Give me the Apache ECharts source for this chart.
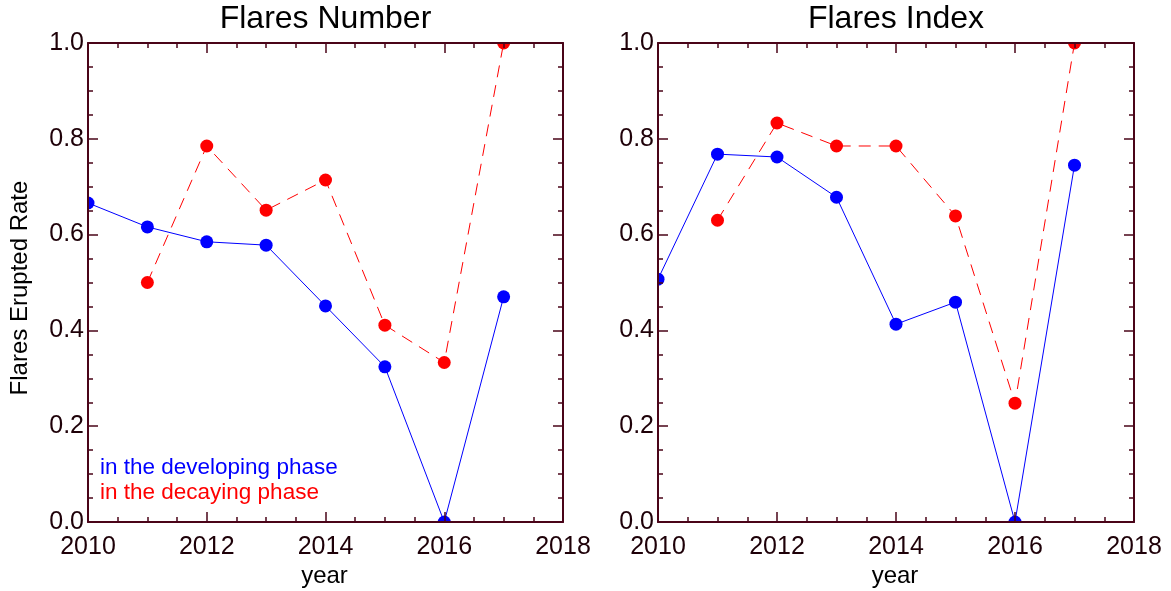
<!DOCTYPE html>
<html>
<head>
<meta charset="utf-8">
<script src="https://cdn.jsdelivr.net/npm/echarts@6/dist/echarts.min.js"></script>
<style>html,body{margin:0;padding:0;background:#fff}#c{width:1171px;height:591px}</style>
</head>
<body>
<div id="c"></div>
<script>
const years = [2010, 2011, 2012, 2013, 2014, 2015, 2016, 2017];
const numberDeveloping = [0.666, 0.616, 0.585, 0.578, 0.451, 0.324, 0.0, 0.470];
const numberDecaying   = [null, 0.500, 0.785, 0.651, 0.714, 0.411, 0.333, 1.0];
const indexDeveloping  = [0.507, 0.768, 0.762, 0.678, 0.413, 0.459, 0.0, 0.745];
const indexDecaying    = [null, 0.630, 0.833, 0.785, 0.785, 0.639, 0.248, 1.0];
const xTicks = [2010, 2012, 2014, 2016, 2018];
const yTicks = [0.0, 0.2, 0.4, 0.6, 0.8, 1.0];
const panelTitles = ['Flares Number', 'Flares Index'];
const legendTexts = ['in the developing phase', 'in the decaying phase'];

const FONT = '"Liberation Sans", Arial, Helvetica, sans-serif';
const AXIS_COLOR = '#4a0418';
const LABEL_COLOR = '#1e0008';
const grids = [
  {left: 88, top: 43, width: 475, height: 479},
  {left: 658, top: 43, width: 476, height: 479}
];

function pairs(vals) { return years.map((y, i) => [y, vals[i]]); }

const xAxes = [], yAxes = [];
grids.forEach((g, gi) => {
  const common = {
    gridIndex: gi, type: 'value', z: 4,
    axisLine: {show: true, onZero: false, lineStyle: {color: AXIS_COLOR, width: 2}},
    axisTick: {show: true, inside: true, length: 10, lineStyle: {color: AXIS_COLOR, width: 1.5}},
    minorTick: {show: true, splitNumber: 4, length: 5, lineStyle: {color: AXIS_COLOR, width: 1.5}},
    splitLine: {show: false}
  };
  ['bottom', 'top'].forEach((pos, k) => {
    xAxes.push(Object.assign({}, common, {
      position: pos, min: xTicks[0], max: xTicks[xTicks.length - 1], interval: 2,
      axisLabel: {show: k === 0, color: LABEL_COLOR, fontSize: 25, fontFamily: FONT, margin: 13,
        formatter: v => String(v)}
    }));
  });
  ['left', 'right'].forEach((pos, k) => {
    yAxes.push(Object.assign({}, common, {
      position: pos, min: yTicks[0], max: yTicks[yTicks.length - 1], interval: 0.2,
      axisLabel: {show: k === 0, color: LABEL_COLOR, fontSize: 25, fontFamily: FONT, margin: 4,
        formatter: v => v.toFixed(1)}
    }));
  });
});

function lineSeries(gi, vals, color, dashed) {
  return {
    type: 'line', xAxisIndex: gi * 2, yAxisIndex: gi * 2, data: pairs(vals),
    symbol: 'circle', symbolSize: 13, clip: false, z: 2, connectNulls: false,
    itemStyle: {color: color},
    lineStyle: {color: color, width: 1, type: dashed ? [12, 8] : 'solid'},
    emphasis: {disabled: true}, animation: false
  };
}

const graphics = [];
grids.forEach((g, gi) => {
  // white masks just outside plot edges so edge markers appear clipped
  const m = 9;
  graphics.push({type: 'rect', z: 3, shape: {x: g.left - m - 1, y: g.top - m, width: m, height: g.height + 2 * m}, style: {fill: '#fff'}});
  graphics.push({type: 'rect', z: 3, shape: {x: g.left + g.width + 1, y: g.top - m, width: m, height: g.height + 2 * m}, style: {fill: '#fff'}});
  graphics.push({type: 'rect', z: 3, shape: {x: g.left - m, y: g.top - m - 1, width: g.width + 2 * m, height: m}, style: {fill: '#fff'}});
  graphics.push({type: 'rect', z: 3, shape: {x: g.left - m, y: g.top + g.height + 1, width: g.width + 2 * m, height: m}, style: {fill: '#fff'}});
  graphics.push({type: 'text', z: 5, x: g.left + g.width / 2, y: 19,
    style: {text: panelTitles[gi], fill: '#000', font: '32px ' + FONT, textAlign: 'center', textVerticalAlign: 'middle'}});
  graphics.push({type: 'text', z: 5, x: g.left + g.width / 2 - 1, y: 576,
    style: {text: 'year', fill: '#000', font: '24px ' + FONT, textAlign: 'center', textVerticalAlign: 'middle'}});
});
graphics.push({type: 'text', z: 5, x: 20, y: 288, rotation: Math.PI / 2,
  style: {text: 'Flares Erupted Rate', fill: '#000', font: '24px ' + FONT, textAlign: 'center', textVerticalAlign: 'middle'}});
graphics.push({type: 'text', z: 5, x: 100, y: 468,
  style: {text: legendTexts[0], fill: '#0000ff', font: '22.5px ' + FONT, textAlign: 'left', textVerticalAlign: 'middle'}});
graphics.push({type: 'text', z: 5, x: 100, y: 493,
  style: {text: legendTexts[1], fill: '#ff0000', font: '22.5px ' + FONT, textAlign: 'left', textVerticalAlign: 'middle'}});

const chart = echarts.init(document.getElementById('c'), null, {renderer: 'canvas'});
chart.setOption({
  backgroundColor: '#fff',
  animation: false,
  grid: grids.map(g => Object.assign({show: false}, g)),
  xAxis: xAxes,
  yAxis: yAxes,
  series: [
    lineSeries(0, numberDeveloping, '#0000ff', false),
    lineSeries(0, numberDecaying, '#ff0000', true),
    lineSeries(1, indexDeveloping, '#0000ff', false),
    lineSeries(1, indexDecaying, '#ff0000', true)
  ],
  graphic: graphics
});
</script>
</body>
</html>
